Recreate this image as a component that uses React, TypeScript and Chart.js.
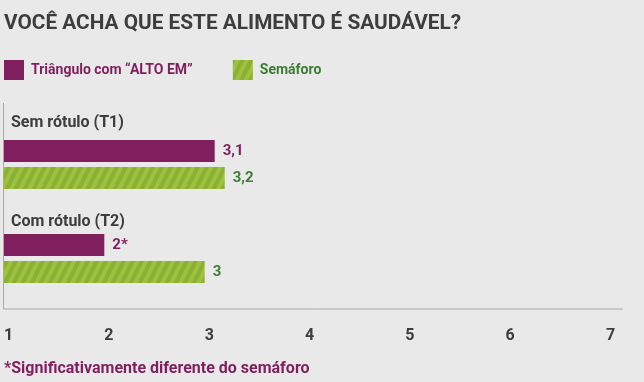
import React, { useEffect, useRef } from "react";
import { Chart, registerables } from "chart.js";

Chart.register(...registerables);

// ---- data ----
const categories = ["Sem rótulo (T1)", "Com rótulo (T2)"];
const seriesNames = ["Triângulo com “ALTO EM”", "Semáforo"];
const triangleValues = [3.1, 2];
const semaforoValues = [3.2, 3];
const triangleValueLabels = ["3,1", "2*"];
const semaforoValueLabels = ["3,2", "3"];
const xTickValues = [1, 2, 3, 4, 5, 6, 7];
const titleText = "VOCÊ ACHA QUE ESTE ALIMENTO É SAUDÁVEL?";
const footnoteText = "*Significativamente diferente do semáforo";

// ---- styles ----
const BG = "#e9e9e9";
const PURPLE = "#7f1f5e";
const GREEN_TEXT = "#3b7e33";
const GREEN_LIGHT = "#9dc23b";
const GREEN_DARK = "#8caf38";
const TEXT = "#3d3d3d";
const AXIS = "#a9a9a9";
const FONT = "Roboto";

function makeStripePattern(ctx: CanvasRenderingContext2D): CanvasPattern | string {
  const w = 9;
  const h = 18;
  const c = document.createElement("canvas");
  c.width = w;
  c.height = h;
  const p = c.getContext("2d");
  if (!p) return GREEN_LIGHT;
  p.fillStyle = GREEN_LIGHT;
  p.fillRect(0, 0, w, h);
  p.fillStyle = GREEN_DARK;
  const band = 4.5;
  for (let k = -2; k <= 2; k++) {
    const x0 = k * w;
    p.beginPath();
    p.moveTo(x0, h);
    p.lineTo(x0 + band, h);
    p.lineTo(x0 + band + w, 0);
    p.lineTo(x0 + w, 0);
    p.closePath();
    p.fill();
  }
  return ctx.createPattern(c, "repeat") || GREEN_LIGHT;
}

const decorPlugin = {
  id: "decor",
  beforeDatasetsDraw(chart: any, _args: any, opts: any) {
    const { ctx, chartArea } = chart;
    ctx.save();
    ctx.strokeStyle = AXIS;
    ctx.lineWidth = 1;
    const bottomY = chartArea.bottom + opts.axisBottomExtra;
    ctx.beginPath();
    ctx.moveTo(chartArea.left - 0.5, chartArea.top - opts.axisTopExtra);
    ctx.lineTo(chartArea.left - 0.5, bottomY);
    ctx.lineTo(chartArea.right, bottomY);
    ctx.stroke();
    ctx.restore();
  },
  afterDatasetsDraw(chart: any, _args: any, opts: any) {
    const { ctx, chartArea } = chart;
    ctx.save();
    // category labels above each group
    const meta0 = chart.getDatasetMeta(0);
    ctx.font = `bold 16px ${FONT}`;
    ctx.fillStyle = TEXT;
    ctx.textAlign = "left";
    ctx.textBaseline = "alphabetic";
    chart.data.labels.forEach((lab: string, i: number) => {
      const bar = meta0.data[i];
      const top = bar.y - bar.height / 2;
      ctx.fillText(lab, chartArea.left + opts.catLabelIndent, top - opts.catLabelGaps[i]);
    });
    // value labels
    ctx.font = `bold 15px ${FONT}`;
    ctx.textBaseline = "middle";
    chart.data.datasets.forEach((ds: any, di: number) => {
      const meta = chart.getDatasetMeta(di);
      ctx.fillStyle = ds.textColor;
      meta.data.forEach((bar: any, i: number) => {
        ctx.fillText(ds.valueLabels[i], bar.x + opts.valueGap, bar.y + 0.5);
      });
    });
    ctx.restore();
  },
  afterDraw(chart: any, _args: any, opts: any) {
    const { ctx } = chart;
    ctx.save();
    ctx.font = `bold 14px ${FONT}`;
    ctx.textBaseline = "middle";
    ctx.textAlign = "left";
    let x = opts.legendX;
    const y = opts.legendY;
    const box = opts.legendBox;
    chart.data.datasets.forEach((ds: any) => {
      ctx.fillStyle = ds.backgroundColor;
      ctx.fillRect(x, y, box, box);
      const tx = x + box + opts.legendTextGap;
      ctx.fillStyle = ds.textColor;
      ctx.fillText(ds.label, tx, y + box / 2 + 0.5);
      x = tx + ctx.measureText(ds.label).width + opts.legendItemGap;
    });
    ctx.restore();
  },
};

export default function App() {
  const canvasRef = useRef<HTMLCanvasElement | null>(null);

  useEffect(() => {
    const canvas = canvasRef.current;
    if (!canvas) return;
    const ctx = canvas.getContext("2d");
    if (!ctx) return;
    const stripes = makeStripePattern(ctx);

    const chart = new Chart(ctx, {
      type: "bar",
      data: {
        labels: categories,
        datasets: [
          {
            label: seriesNames[0],
            data: triangleValues,
            backgroundColor: PURPLE,
            textColor: PURPLE,
            valueLabels: triangleValueLabels,
          } as any,
          {
            label: seriesNames[1],
            data: semaforoValues,
            backgroundColor: stripes,
            textColor: GREEN_TEXT,
            valueLabels: semaforoValueLabels,
          } as any,
        ],
      },
      options: {
        indexAxis: "y",
        animation: false,
        responsive: false,
        devicePixelRatio: 1,
        layout: { padding: { left: 4, right: 21, top: 0, bottom: 0 } },
        datasets: {
          bar: { categoryPercentage: 0.574, barPercentage: 0.815, borderWidth: 0 },
        },
        scales: {
          x: {
            type: "linear",
            min: 1,
            max: 7.17,
            afterBuildTicks: (s: any) => {
              s.ticks = xTickValues.map((v) => ({ value: v }));
            },
            afterFit: (s: any) => {
              s.height = 48;
              s.paddingLeft = 0;
              s.paddingRight = 0;
            },
            grid: { display: false },
            border: { display: false },
            ticks: {
              align: "start",
              padding: 13,
              color: TEXT,
              font: { family: FONT, weight: "bold", size: 16 },
              callback: (v: any) => String(v),
            },
          },
          y: { display: false },
        },
        plugins: {
          legend: { display: false },
          tooltip: { enabled: false },
          title: {
            display: true,
            text: titleText,
            align: "start",
            color: TEXT,
            font: { family: FONT, weight: "bold", size: 20.8 },
            padding: { top: 11.5, bottom: 81.04 },
          },
          subtitle: {
            display: true,
            position: "bottom",
            align: "start",
            text: footnoteText,
            color: PURPLE,
            font: { family: FONT, weight: "bold", size: 16 },
            padding: { top: 5.4, bottom: 3.9 },
          },
          decor: {
            axisTopExtra: 14.5,
            axisBottomExtra: 3.5,
            catLabelIndent: 7,
            catLabelGaps: [13, 8],
            valueGap: 8,
            legendX: 4,
            legendY: 60,
            legendBox: 20,
            legendTextGap: 7,
            legendItemGap: 40,
          },
        } as any,
      },
      plugins: [decorPlugin],
    });

    return () => chart.destroy();
  }, []);

  return (
    <div
      style={{
        position: "absolute",
        left: 0,
        top: 0,
        width: 644,
        height: 382,
        background: BG,
        overflow: "hidden",
      }}
    >
      <canvas ref={canvasRef} width={644} height={382} style={{ display: "block" }} />
    </div>
  );
}
